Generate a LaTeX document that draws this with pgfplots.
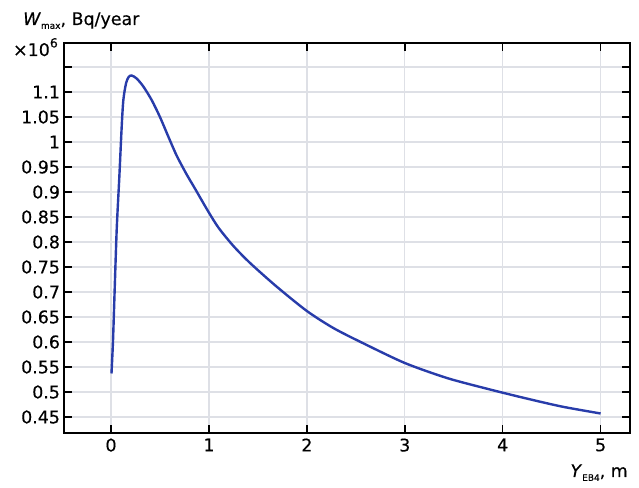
\documentclass[border=0pt]{standalone}
\usepackage{fontspec}
\setmainfont{DejaVu Sans}[FakeBold=0.35]
\usepackage{pgfplots}
\pgfplotsset{compat=1.18}
\definecolor{curve}{RGB}{40,60,170}
\definecolor{gridc}{RGB}{222,224,230}
\begin{document}
\begin{tikzpicture}
\begin{axis}[
  name=ax,
  scale only axis, width=566bp, height=390bp,
  xmin=-0.48, xmax=5.3, ymin=0.418, ymax=1.198,
  xtick={0,1,2,3,4,5},
  ytick={0.45,0.5,0.55,0.6,0.65,0.7,0.75,0.8,0.85,0.9,0.95,1,1.05,1.1,1.15},
  yticklabels={0.45,0.5,0.55,0.6,0.65,0.7,0.75,0.8,0.85,0.9,0.95,1,1.05,1.1,},
  grid=major, grid style={gridc, line width=1.3bp},
  tick align=inside, major tick length=8bp,
  tick style={black, line width=1.5bp},
  axis line style={black, line width=1.7bp},
  /pgf/number format/assume math mode=true,
  tick label style={font=\fontsize{17.5}{20}\selectfont},
  xticklabel style={yshift=-2bp},
  yticklabel style={xshift=-0.5bp},
]
\addplot[curve, line width=2.4bp, smooth, tension=0.45] coordinates {
(0.005,0.537) (0.02,0.60) (0.034,0.684) (0.058,0.824) (0.085,0.93)
(0.109,1.03) (0.126,1.084) (0.153,1.117) (0.18,1.130) (0.211,1.133)
(0.262,1.127) (0.33,1.111) (0.415,1.084) (0.5,1.05) (0.585,1.011)
(0.67,0.973) (0.77,0.936) (0.857,0.907) (0.993,0.861) (1.1,0.828)
(1.25,0.792) (1.42,0.758) (1.69,0.711) (2.0,0.662) (2.27,0.628) (2.57,0.598)
(3.0,0.558) (3.43,0.528) (3.83,0.507) (4.2,0.489) (4.6,0.471) (5.0,0.457)
};
\end{axis}
\node[anchor=base west, font=\fontsize{17.5}{20}\selectfont, inner sep=0pt]
  at ([shift={(-41bp,18bp)}]ax.north west)
  {\textit{W}\raisebox{-0.4ex}{\fontsize{9}{9}\selectfont max}, Bq/year};
\node[anchor=base east, font=\fontsize{17.5}{20}\selectfont, inner sep=0pt]
  at ([shift={(-6bp,-13bp)}]ax.north west)
  {\texttimes10\raisebox{0.9ex}{\fontsize{12.5}{12}\selectfont 6}};
\node[anchor=base east, font=\fontsize{17.5}{20}\selectfont, inner sep=0pt]
  at ([shift={(-2bp,-44bp)}]ax.south east)
  {\textit{Y}\raisebox{-0.4ex}{\fontsize{9}{9}\selectfont EB4}, m};
\pgfresetboundingbox
\path ([shift={(-64bp,-55bp)}]ax.south west) rectangle ([shift={(9bp,43bp)}]ax.north east);
\end{tikzpicture}
\end{document}
